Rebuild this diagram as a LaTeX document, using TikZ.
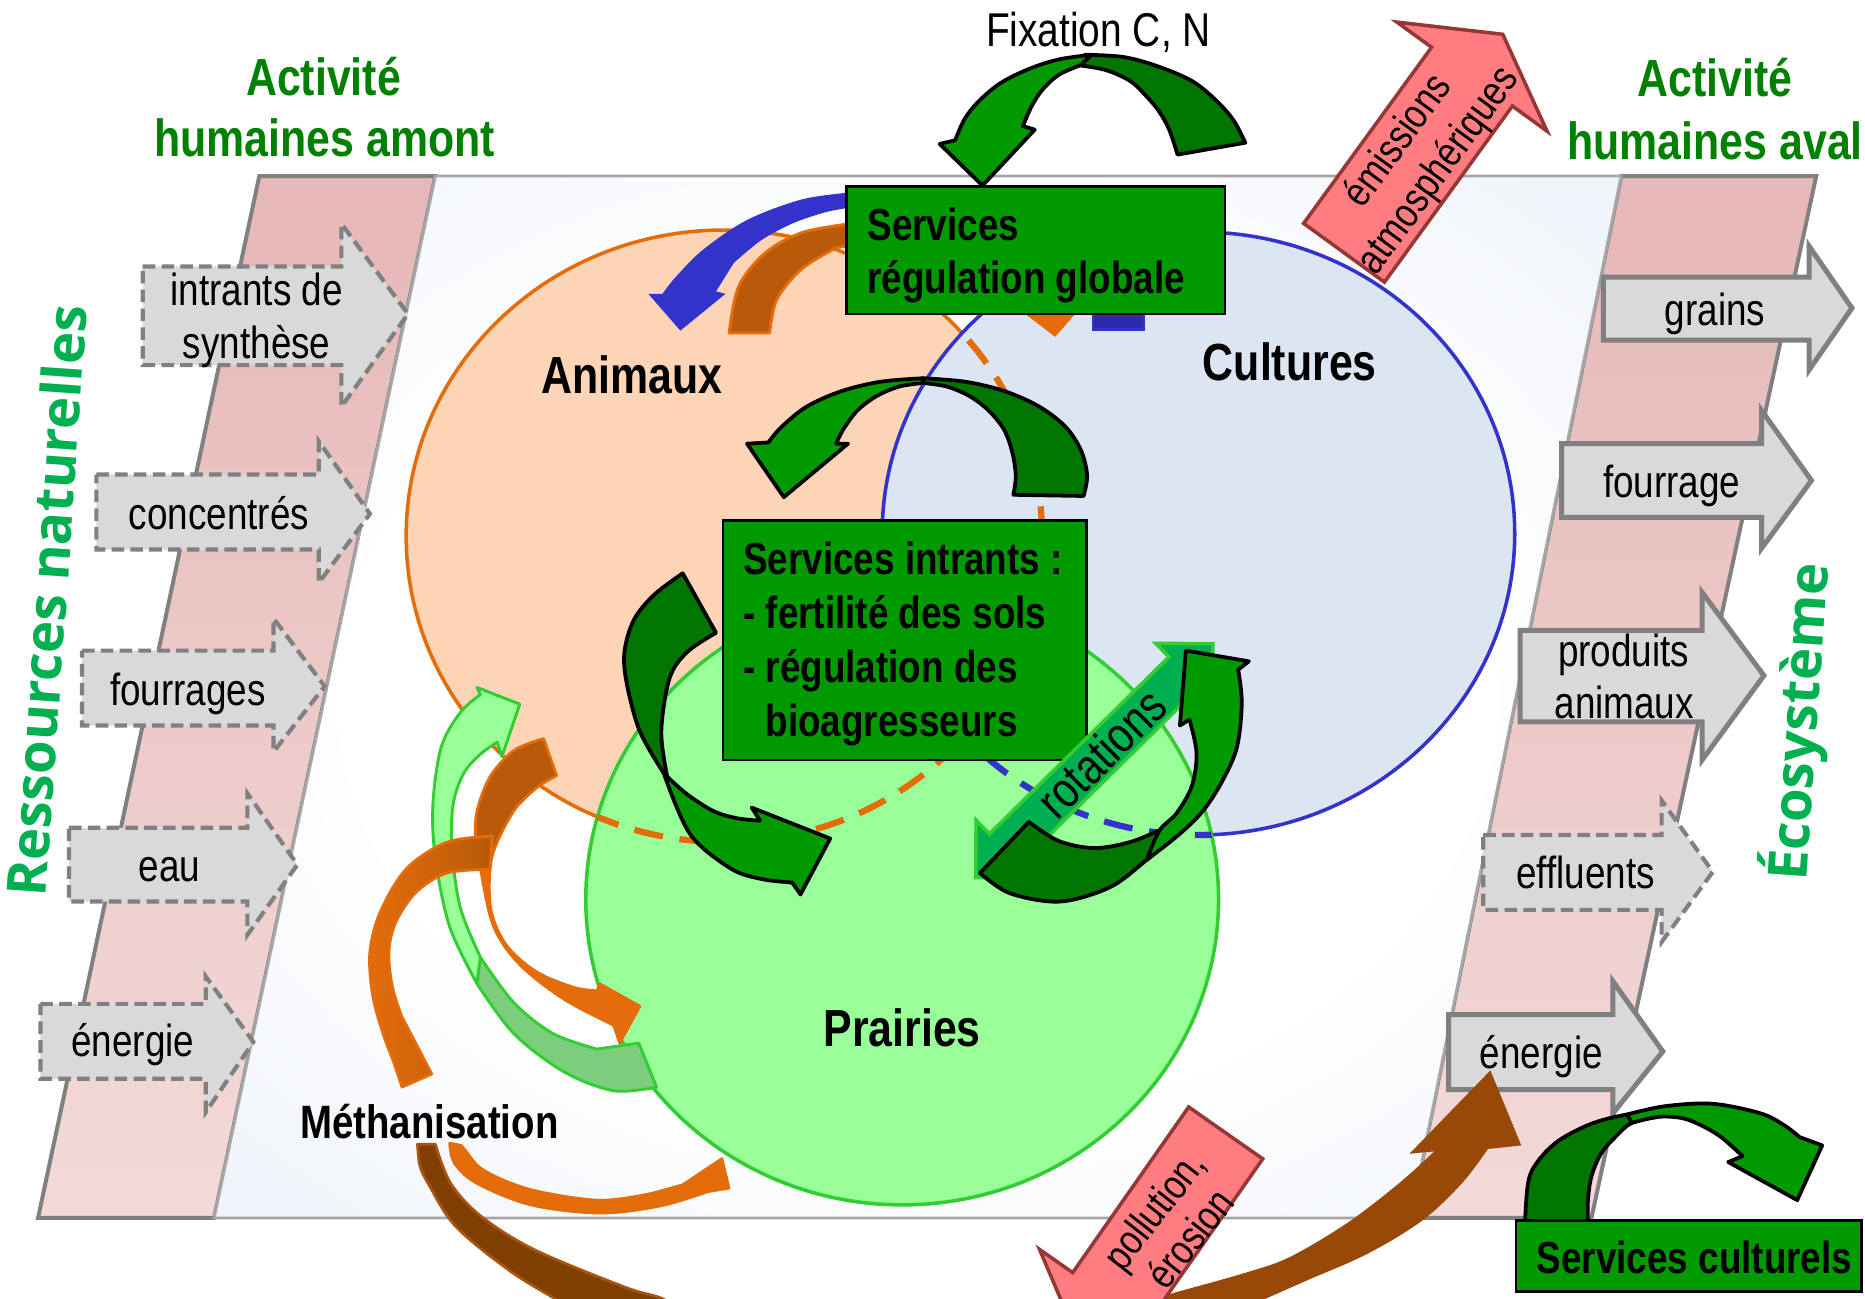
\documentclass[tikz,border=0pt]{standalone}
\usepackage{fontspec}
\setmainfont{Liberation Sans}[FakeStretch=0.82]
\newfontfamily\resfont{Open Sans}
\usetikzlibrary{calc}
\definecolor{tgreen}{RGB}{0,128,0}
\definecolor{rgreen}{RGB}{0,176,80}
\definecolor{pinkA}{RGB}{230,184,183}
\definecolor{pinkB}{RGB}{242,218,217}
\definecolor{bandgray}{RGB}{128,128,128}
\definecolor{panelgray}{RGB}{166,166,166}
\definecolor{panelblue}{RGB}{212,224,242}
\definecolor{arrgray}{RGB}{217,217,217}
\definecolor{orng}{RGB}{228,108,10}
\definecolor{peach}{RGB}{251,213,181}
\definecolor{cultblue}{RGB}{220,230,242}
\definecolor{blueln}{RGB}{51,51,204}
\definecolor{bluedk}{RGB}{42,42,170}
\definecolor{prfill}{RGB}{153,255,153}
\definecolor{prline}{RGB}{51,204,51}
\definecolor{boxgreen}{RGB}{0,153,0}
\definecolor{darkgr}{RGB}{0,117,0}
\definecolor{redfill}{RGB}{255,124,128}
\definecolor{redline}{RGB}{149,55,53}
\definecolor{brownA}{RGB}{184,90,10}
\definecolor{brownB}{RGB}{127,63,0}
\definecolor{brownBl}{RGB}{170,85,15}
\definecolor{brownC}{RGB}{152,72,7}
\definecolor{rotgreen}{RGB}{0,176,80}
\definecolor{palegr}{RGB}{124,205,124}
\pgfdeclareradialshading{panelshade}{\pgfpoint{0bp}{0bp}}{color(0bp)=(white); color(20bp)=(white); color(60bp)=(panelblue); color(80bp)=(panelblue)}
\newcommand\band[3]{\filldraw[#1] plot[smooth,tension=.55] coordinates {#2} -- plot[smooth,tension=.55] coordinates {#3} -- cycle;}
\newcommand\bandh[4]{\filldraw[#1] plot[smooth,tension=.55] coordinates {#2} -- #3 -- plot[smooth,tension=.55] coordinates {#4} -- cycle;}
\newcommand\blockarr[9]{\path[#1] (#2,#5) -- (#3,#5) -- (#3,#7) -- (#4,#9) -- (#3,#8) -- (#3,#6) -- (#2,#6) -- cycle;}
\tikzset{
  inarr/.style={fill=arrgray, draw=bandgray, line width=2pt, dash pattern=on 6pt off 3pt},
  outarr/.style={fill=arrgray, draw=bandgray, line width=2.4pt},
  lbl/.style={font=\fontsize{21.5pt}{25pt}\selectfont, inner sep=0pt, anchor=base},
  bigl/.style={font=\bfseries\fontsize{25pt}{30pt}\selectfont, inner sep=0pt, anchor=base west},
  boxt/.style={font=\bfseries\fontsize{21.5pt}{26pt}\selectfont, inner sep=0pt, anchor=base west},
  ttl/.style={font=\bfseries\fontsize{25pt}{30pt}\selectfont, text=tgreen, inner sep=0pt, anchor=base},
  restxt/.style={font=\resfont\bfseries\fontsize{26pt}{30pt}\selectfont, text=rgreen, inner sep=0pt, anchor=base},
  gdark/.style={fill=darkgr, draw=black, line width=1.8pt, line join=round},
  glight/.style={fill=boxgreen, draw=black, line width=1.8pt, line join=round},
  gbox/.style={fill=boxgreen, draw=black, line width=1.2pt},
  redarr/.style={fill=redfill, draw=redline, line width=1.7pt},
  paleA/.style={fill=prfill, draw=prline, line width=1.4pt, line join=round},
  paleB/.style={fill=palegr, draw=prline, line width=1.4pt, line join=round},
  orar/.style={fill=orng, draw=orng, line width=1.2pt, line join=round},
  dsh/.style={line width=3pt, dash pattern=on 14pt off 8pt},
}
\begin{document}
\begin{tikzpicture}[x={(0.02cm,0)}, y={(0,-0.02cm)}]
\useasboundingbox (0,0) rectangle (1568,1091.3);
\clip (0,0) rectangle (1568,1091.3);
\fill[white] (0,0) rectangle (1568,1091.3);

% side bands
\shade[top color=pinkA, bottom color=pinkB] (218,148) -- (366,148) -- (180,1024) -- (32,1024) -- cycle;
\draw[bandgray, line width=1.9pt, line join=miter] (218,148) -- (366,148) -- (180,1024) -- (32,1024) -- cycle;
\shade[top color=pinkA, bottom color=pinkB] (1363,148) -- (1527,148) -- (1338,1024) -- (1186,1024) -- cycle;
\draw[bandgray, line width=1.9pt, line join=miter] (1363,148) -- (1527,148) -- (1338,1024) -- (1186,1024) -- cycle;
% main panel
\shade[shading=panelshade] (366,148) -- (1363,148) -- (1186,1024) -- (180,1024) -- cycle;
\draw[panelgray, line width=1.4pt, line join=miter] (366,148) -- (1363,148) -- (1186,1024) -- (180,1024) -- cycle;

% input arrows (dashed)
\blockarr{inarr}{120}{287}{343}{224}{307}{188}{342}{264}
\blockarr{inarr}{81}{268}{311}{399}{462}{371}{490}{432}
\blockarr{inarr}{69}{230}{273}{547}{610}{520}{632}{577}
\blockarr{inarr}{58}{208}{250}{696}{758}{667}{786}{727}
\blockarr{inarr}{34}{173}{213}{844}{907}{821}{935}{876}
% output arrows
\blockarr{outarr}{1348}{1521}{1557}{233}{286}{207}{311}{259}
\blockarr{outarr}{1313}{1481}{1523}{373}{435}{345}{461}{404}
\blockarr{outarr}{1278}{1431}{1483}{530}{607}{498}{639}{568}
\blockarr{inarr}{1247}{1397}{1440}{702}{765}{673}{792}{733}
\blockarr{outarr}{1218}{1356}{1398}{853}{916}{825}{936}{884}

% ellipses
\def\animpath{(608.8,450.7) ellipse [x radius=267.3, y radius=257.3]}
\def\cultpath{(1007.6,448.5) ellipse [x radius=265.9, y radius=253.5]}
\def\prairpath{(758.5,756) ellipse [x radius=266, y radius=257]}
\filldraw[fill=peach, draw=orng, line width=1.7pt] \animpath;
\filldraw[fill=cultblue, draw=blueln, line width=1.7pt] \cultpath;
\begin{scope}\clip \cultpath; \draw[orng, dsh] \animpath; \end{scope}
\filldraw[fill=prfill, draw=prline, line width=1.7pt] \prairpath;
\begin{scope}\clip \prairpath; \draw[orng, dsh] \animpath; \draw[blueln, dsh] \cultpath; \end{scope}

% emission arrow
\begin{scope}[shift={(1130,212.5)}, rotate=54]
\filldraw[redarr] (0,-42) -- (183,-42) -- (183,-78) -- (227,0) -- (183,78) -- (183,42) -- (0,42) -- cycle;
\end{scope}
\node[font=\fontsize{20pt}{24pt}\selectfont, rotate=54, align=center, inner sep=0pt] at (1193,131.5) {émissions\\atmosphériques};

% Fixation arrow
\band{gdark}{(912,46) (945,48) (974,56) (1002,68) (1022,84) (1037,101) (1047,120)}{(990,130) (983,109) (974,93) (962,79) (950,68) (930,59) (908,55)}
\bandh{glight}{(918,46) (890,50) (865,58) (841,70) (823,85) (811,100) (803,118)}{(790,121) -- (826,156) -- (870,109)}{(860,106) (867,90) (876,76) (890,63) (908,55)}

% regulation arrows (blue / orange)
\fill[blueln] plot[smooth,tension=.55] coordinates {(730,160) (711.7,162) (673,168) (628,185) (591,210) (568,233) (557,247)} -- (545,247) -- (572,278) -- (610,247) -- (602,245) -- plot[smooth,tension=.55] coordinates {(617,221) (640,202) (666,188) (692,179) (712,175) (730,174)} -- cycle;
\band{fill=brownA, draw=orng, line width=1.4pt, line join=round}{(730,186) (711.7,188.4) (673,196) (643,213) (621,241) (613,280)}{(647,280) (653,252) (673,227) (700,210) (712,207) (730,206)}
\filldraw[fill=orng, draw=orng, line width=1pt] (845,250) -- (915,250) -- (887,282) -- cycle;
\filldraw[fill=bluedk, draw=blueln, line width=1.2pt] (919,250) rectangle (962,277);

% boxes
\filldraw[gbox] (711.7,157) rectangle (1030,264);
\node[boxt] at (729,202) {Services};
\node[boxt] at (729,246.7) {régulation globale};
\filldraw[gbox] (607.7,437.8) rectangle (913.6,639);
\node[boxt] at (624.6,482.6) {Services intrants :};
\node[boxt] at (624.6,528.3) {- fertilité des sols};
\node[boxt] at (624.6,574) {- régulation des};
\node[boxt] at (643.4,618.9) {bioagresseurs};

% middle top arrow
\band{gdark}{(911,417) (914,400) (909,379) (896,359) (874,342) (845,329) (812,321) (776,318)}{(776,322) (796,325) (815,333) (831,345) (844,361) (851,380) (854,400) (852,416)}
\bandh{glight}{(776,318) (740,321) (707,329) (678,342) (657,359) (646,372)}{(628,373) -- (659,418) -- (713,373)}{(703,373) (709,361) (721,345) (737,333) (756,325) (776,322)}
% left cycle arrow
\band{gdark}{(574,482) (550,500) (533,521) (525,548) (527,575) (538,615) (558,650)}{(561,653) (556,615) (563,570) (578,548) (602,532)}
\bandh{glight}{(558,650) (580,701) (614,730) (640,739) (666,742)}{(673,752) -- (698,705) -- (632,679)}{(639,690) (620,688) (600,682) (578,668) (561,653)}
% rotations double arrow
\begin{scope}[shift={(920,639.5)}, rotate=44.6]
\filldraw[fill=rotgreen, draw=prline, line width=1.7pt] (140,0) -- (106,34) -- (106,18) -- (-106,18) -- (-106,34) -- (-140,0) -- (-106,-34) -- (-106,-18) -- (106,-18) -- (106,-34) -- cycle;
\end{scope}
\node[font=\fontsize{24pt}{28pt}\selectfont, rotate=44.6, inner sep=0pt] at (926,633) {rotations};
% right cycle arrow
\band{gdark}{(824,734) (849,751) (891,758) (933,746) (964,723) (990,700)}{(975,698) (950,708) (920,713) (890,707) (865,691)}
\bandh{glight}{(964,723) (992,701) (1012,681) (1028,656) (1040,628) (1044,591) (1041,563)}{(1050,556) -- (997,547) -- (992,610)}{(1000,605) (1006,633) (1002,661) (989,684) (975,698) (964,723)}

% Methanisation arrows
\bandh{paleA}{(401,827) (378,779) (366,721) (364,676) (371,628) (387,599) (404,584)}{(401,578) -- (437,592) -- (422,636)}{(418,624) (404,634) (390,650) (381,676) (380,714) (387,763) (404,805)}
\filldraw[paleB] plot[smooth,tension=.55] coordinates {(401,827) (432,869) (474,901) (516,917) (552,914)} -- (537,877) -- plot[smooth,tension=.55] coordinates {(502,882) (465,869) (432,843) (404,805)} -- cycle;
\def\bpath{plot[smooth,tension=.55] coordinates {(457,621) (432,631) (412,653) (401,682) (400,705) (404,731) (415,779) (437,811) (474,840) (516,862)} -- (521,877) -- (538,846) -- (504,827) -- plot[smooth,tension=.55] coordinates {(502,833) (482,830) (451,817) (426,795) (413,766) (412,731) (418,708) (434,679) (454,660)} -- (468,652) -- cycle}
\fill[orng] \bpath;
\begin{scope}\clip (0,0) rectangle (1568,712); \fill[brownA] \bpath; \end{scope}
\draw[orng, line width=1.3pt, line join=round] \bpath;
\shadedraw[left color=orng, middle color=orng, right color=brownA, draw=orng, line width=1.3pt, line join=round] plot[smooth,tension=.55] coordinates {(414,703) (376,708) (342,730) (320,766) (311,800) (313,835) (321,866) (331,893)} -- (338,914) -- (363,903) -- (348,874) -- plot[smooth,tension=.55] coordinates {(338,855) (330,830) (327,800) (333,775) (350,750) (376,734) (412,731)} -- cycle;
\band{fill=brownB, draw=brownBl, line width=1.3pt, line join=round}{(351,962) (353,980) (360,995) (383,1031) (428,1068) (465,1091) (480,1100)}{(570,1100) (555,1091) (525,1082) (450,1051) (405,1023) (379,995) (366,962)}
\bandh{orar}{(378,961) (382,978) (401,995) (446,1013) (504,1020) (555,1014) (595,1002)}{(613,999) -- (607,974) -- (574,996)}{(549,1003) (504,1009) (446,1000) (407,984) (392,968) (388,963)}

% brown arrow to energy
\fill[brownC] plot[smooth,tension=.55] coordinates {(950,1100) (973,1091) (1044,1071) (1084,1057) (1133,1028) (1176,995) (1206,968)} -- (1185,970) -- (1253,900) -- (1279,963) -- plot[smooth,tension=.55] coordinates {(1251,966) (1229,995) (1196,1026) (1150,1054) (1100,1076) (1066,1091) (1045,1100)} -- cycle;
% pollution arrow
\begin{scope}[shift={(1030.5,952.5)}, rotate=235]
\filldraw[redarr] (0,-38) -- (170,-38) -- (170,-72) -- (215,0) -- (170,72) -- (170,38) -- (0,38) -- cycle;
\end{scope}
\node[font=\fontsize{20pt}{22pt}\selectfont, rotate=52, align=center, inner sep=0pt] at (985,1029) {pollution,\\érosion};

% Services culturels
\band{gdark}{(1282,1030) (1284,1000) (1288,984) (1300,968) (1315,956) (1340,944) (1368,937) (1397,934)}{(1394,939) (1372,944) (1358,956) (1346,970) (1338,989) (1335,1010) (1335,1030)}
\bandh{glight}{(1368,937) (1400,930) (1440,928) (1480,936) (1500,946) (1513,956)}{(1532,963) -- (1511,1009) -- (1453,977)}{(1465,972) (1447,956) (1430,946) (1414,940) (1394,939) (1372,944)}
\filldraw[gbox] (1274.5,1026.3) rectangle (1565,1086);
\node[boxt] at (1291.7,1070.6) {Services culturels};

% labels
\node[ttl] at (272,80) {Activité};
\node[ttl] at (273,132) {humaines amont};
\node[ttl] at (1442,81.3) {Activité};
\node[ttl] at (1442,134.5) {humaines aval};
\node[font=\fontsize{22.7pt}{26pt}\selectfont, inner sep=0pt, anchor=base] at (923.5,39.2) {Fixation C, N};
\node[restxt, rotate=86] at (56,506) {Ressources naturelles};
\node[restxt, rotate=86] at (1528,608) {Écosystème};
\node[bigl] at (455,330.6) {Animaux};
\node[bigl] at (1011,319.5) {Cultures};
\node[bigl] at (692,880) {Prairies};
\node[boxt, font=\bfseries\fontsize{22.4pt}{26pt}\selectfont] at (252.2,957.1) {Méthanisation};

\node[lbl] at (215.8,256.5) {intrants de};
\node[lbl] at (215.8,301.3) {synthèse};
\node[lbl] at (184,445) {concentrés};
\node[lbl] at (158,592.8) {fourrages};
\node[lbl] at (142.5,741.2) {eau};
\node[lbl] at (111.7,888) {énergie};
\node[lbl] at (1442,273.3) {grains};
\node[lbl] at (1405.4,418.1) {fourrage};
\node[lbl] at (1365,560.5) {produits};
\node[lbl] at (1365.5,604) {animaux};
\node[lbl] at (1333,746.8) {effluents};
\node[lbl] at (1295.8,898.2) {énergie};
\end{tikzpicture}
\end{document}
